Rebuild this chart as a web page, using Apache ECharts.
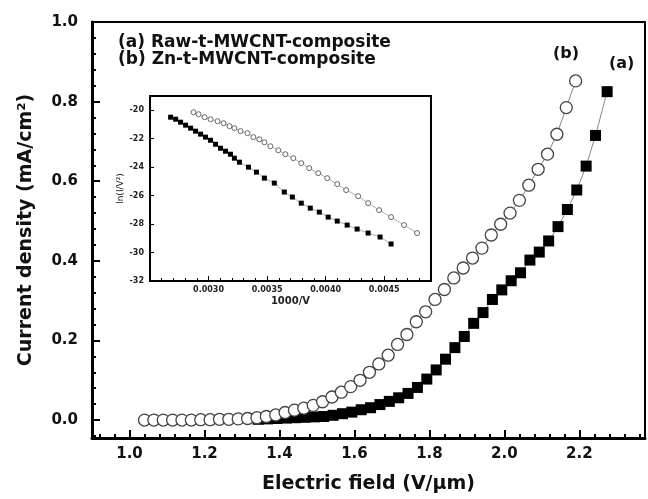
<!DOCTYPE html>
<html>
<head>
<meta charset="utf-8">
<title>Current density vs electric field</title>
<script src="https://cdn.jsdelivr.net/npm/echarts@6/dist/echarts.min.js"></script>
<style>
    html, body { margin: 0; padding: 0; background: #fff; }
    #main { width: 648px; height: 499px; }
</style>
</head>
<body>
<div id="main"></div>
<script>
//--------------------主图数据---------------------------
// (b) Zn-t-MWCNT-composite, 空心圆
var fieldB = [1.04, 1.065, 1.09, 1.115, 1.14, 1.165, 1.19, 1.215, 1.24, 1.265, 1.29, 1.315, 1.34, 1.365, 1.39,
    1.415, 1.44, 1.465, 1.49, 1.515, 1.54, 1.565, 1.59, 1.615, 1.64, 1.665, 1.69, 1.715, 1.74, 1.765, 1.79,
    1.815, 1.84, 1.865, 1.89, 1.915, 1.94, 1.965, 1.99, 2.015, 2.04, 2.065, 2.09, 2.115, 2.14, 2.165, 2.19];
var currentB = [0, 0, 0, 0, 0, 0, 0.001, 0.001, 0.002, 0.002, 0.003, 0.004, 0.006, 0.009, 0.013,
    0.019, 0.025, 0.03, 0.037, 0.046, 0.058, 0.07, 0.084, 0.1, 0.12, 0.141, 0.163, 0.19, 0.215, 0.247, 0.272,
    0.303, 0.328, 0.357, 0.382, 0.407, 0.432, 0.465, 0.492, 0.52, 0.552, 0.59, 0.63, 0.668, 0.718, 0.785, 0.852];

// (a) Raw-t-MWCNT-composite, 实心方块
var fieldA = [1.343, 1.368, 1.393, 1.418, 1.443, 1.468, 1.493, 1.518, 1.543, 1.568, 1.593, 1.618, 1.643,
    1.668, 1.693, 1.718, 1.743, 1.768, 1.793, 1.818, 1.843, 1.868, 1.893, 1.918, 1.943, 1.968, 1.993,
    2.018, 2.043, 2.068, 2.093, 2.118, 2.143, 2.168, 2.193, 2.218, 2.243, 2.274];
var currentA = [0.002, 0.003, 0.004, 0.005, 0.006, 0.007, 0.008, 0.009, 0.012, 0.016, 0.02, 0.026, 0.031,
    0.039, 0.047, 0.056, 0.067, 0.082, 0.103, 0.126, 0.153, 0.182, 0.21, 0.243, 0.27, 0.303, 0.327,
    0.35, 0.37, 0.402, 0.422, 0.45, 0.486, 0.529, 0.578, 0.638, 0.715, 0.825];
//--------------------主图数据---------------------------

//--------------------插图数据 (F-N)---------------------------
var invB = [0.002872, 0.002915, 0.002966, 0.003017, 0.003077, 0.003128, 0.003179, 0.003221, 0.003273,
    0.003332, 0.003383, 0.003434, 0.003477, 0.003528, 0.003596, 0.003656, 0.003724, 0.003792, 0.00386,
    0.003937, 0.004014, 0.004099, 0.004175, 0.004278, 0.004363, 0.004457, 0.004559, 0.00467, 0.004781];
var lnB = [-20.14, -20.28, -20.49, -20.63, -20.77, -20.91, -21.12, -21.26, -21.47,
    -21.61, -21.89, -22.04, -22.25, -22.53, -22.81, -23.09, -23.37, -23.72, -24.07,
    -24.42, -24.77, -25.19, -25.61, -26.04, -26.53, -27.02, -27.51, -28.07, -28.63];

var invA = [0.002676, 0.002719, 0.002761, 0.002804, 0.002847, 0.002889, 0.002932, 0.002974, 0.003017,
    0.00306, 0.003102, 0.003145, 0.003187, 0.003221, 0.003264, 0.003341, 0.003409, 0.003477, 0.003562,
    0.003647, 0.003716, 0.003792, 0.003869, 0.003946, 0.004022, 0.004099, 0.004184, 0.004269, 0.004363,
    0.004465, 0.004559];
var lnA = [-20.49, -20.63, -20.84, -21.05, -21.26, -21.47, -21.68, -21.89, -22.11,
    -22.39, -22.67, -22.88, -23.09, -23.37, -23.65, -24.0, -24.35, -24.77, -25.12,
    -25.75, -26.1, -26.53, -26.88, -27.16, -27.51, -27.79, -28.07, -28.35, -28.63,
    -28.91, -29.4];
//--------------------插图数据 (F-N)---------------------------

//--------------------刻度---------------------------
var xTicks = [1.0, 1.2, 1.4, 1.6, 1.8, 2.0, 2.2];
var yTicks = [0.0, 0.2, 0.4, 0.6, 0.8, 1.0];
var insetXTicks = [0.0030, 0.0035, 0.0040, 0.0045];
var insetYTicks = [-20, -22, -24, -26, -28, -30, -32];
var legendLines = ['(a) Raw-t-MWCNT-composite', '(b) Zn-t-MWCNT-composite'];
//--------------------刻度---------------------------

function pairs(xs, ys) {
    var out = [];
    for (var i = 0; i < xs.length; i++) out.push([xs[i], ys[i]]);
    return out;
}
function steps(from, to, step) {    // 次刻度位置
    var out = [];
    for (var v = from; v <= to + step / 10; v += step) out.push(+v.toFixed(6));
    return out;
}

var FONT = '"DejaVu Sans", sans-serif';
var mainMinorX = steps(0.92, 2.36, 0.04);
var mainMinorY = steps(-0.04, 1.0, 0.04);
var insetMinorX = steps(0.0026, 0.0049, 0.0001);

var myChart = echarts.init(document.getElementById('main'), null, {renderer: 'canvas'});

var baseTick = function (vals, len, w) {
    return {show: true, inside: true, customValues: vals, length: len, lineStyle: {color: '#000', width: w}};
};

var option = {
    animation: false,
    backgroundColor: '#fff',
    grid: [
        {left: 92, right: 3, top: 22, bottom: 59, show: true, borderColor: '#000', borderWidth: 2},
        {left: 150, right: 217, top: 96, bottom: 218, show: true, borderColor: '#000', borderWidth: 2,
            backgroundColor: '#fff', z: 5}
    ],
    xAxis: [
        {
            type: 'value', gridIndex: 0, min: 0.9, max: 2.375,
            name: 'Electric field (V/μm)', nameLocation: 'middle', nameGap: 37,
            nameTextStyle: {fontFamily: FONT, fontWeight: 'bold', fontSize: 19, color: '#111'},
            axisLine: {onZero: false, lineStyle: {color: '#000', width: 3}},
            axisTick: baseTick(xTicks, 8, 2),
            axisLabel: {customValues: xTicks, margin: 9, fontFamily: FONT, fontWeight: 'bold', fontSize: 15,
                color: '#111', formatter: function (v) { return v.toFixed(1); }},
            splitLine: {show: false}
        },
        {
            type: 'value', gridIndex: 0, min: 0.9, max: 2.375, position: 'bottom',
            axisLine: {show: false, onZero: false}, axisLabel: {show: false}, splitLine: {show: false},
            axisTick: baseTick(mainMinorX, 4, 2)
        },
        {
            type: 'value', gridIndex: 1, min: 0.0025, max: 0.0049,
            name: '1000/V', nameLocation: 'middle', nameGap: 15,
            nameTextStyle: {fontFamily: FONT, fontWeight: 'bold', fontSize: 10, color: '#222'},
            axisLine: {onZero: false, lineStyle: {color: '#000', width: 2}},
            axisTick: baseTick(insetXTicks, 5, 1),
            axisLabel: {customValues: insetXTicks, margin: 5, fontFamily: FONT, fontWeight: 'bold', fontSize: 8,
                color: '#222', formatter: function (v) { return v.toFixed(4); }},
            splitLine: {show: false}, z: 6
        },
        {
            type: 'value', gridIndex: 1, min: 0.0025, max: 0.0049, position: 'bottom',
            axisLine: {show: false, onZero: false}, axisLabel: {show: false}, splitLine: {show: false},
            axisTick: baseTick(insetMinorX, 3, 1), z: 6
        }
    ],
    yAxis: [
        {
            type: 'value', gridIndex: 0, min: -0.045, max: 1.0,
            name: 'Current density (mA/cm²)', nameLocation: 'middle', nameGap: 56,
            nameTextStyle: {fontFamily: FONT, fontWeight: 'bold', fontSize: 19, color: '#111'},
            axisLine: {onZero: false, lineStyle: {color: '#000', width: 3}},
            axisTick: baseTick(yTicks, 8, 2),
            axisLabel: {customValues: yTicks, margin: 14, fontFamily: FONT, fontWeight: 'bold', fontSize: 15,
                color: '#111', formatter: function (v) { return v.toFixed(1); }},
            splitLine: {show: false}
        },
        {
            type: 'value', gridIndex: 0, min: -0.045, max: 1.0, position: 'left',
            axisLine: {show: false, onZero: false}, axisLabel: {show: false}, splitLine: {show: false},
            axisTick: baseTick(mainMinorY, 4, 2)
        },
        {
            type: 'value', gridIndex: 1, min: -32, max: -19,
            name: 'ln(I/V²)', nameLocation: 'middle', nameGap: 22,
            nameTextStyle: {fontFamily: FONT, fontSize: 9, color: '#222'},
            axisLine: {onZero: false, lineStyle: {color: '#000', width: 2}},
            axisTick: baseTick(insetYTicks, 4, 1),
            axisLabel: {customValues: insetYTicks, margin: 6, fontFamily: FONT, fontWeight: 'bold', fontSize: 8,
                color: '#222'},
            splitLine: {show: false}, z: 6
        }
    ],
    graphic: [
        {type: 'text', left: 118, top: 34, z: 10,
            style: {text: legendLines[0], font: 'bold 17px ' + FONT, fill: '#111'}},
        {type: 'text', left: 118, top: 51, z: 10,
            style: {text: legendLines[1], font: 'bold 17px ' + FONT, fill: '#111'}},
        {type: 'text', left: 553, top: 46, z: 10,
            style: {text: '(b)', font: 'bold 16px ' + FONT, fill: '#111'}},
        {type: 'text', left: 609, top: 56, z: 10,
            style: {text: '(a)', font: 'bold 16px ' + FONT, fill: '#111'}}
    ],
    series: [
        {
            name: '(a) Raw-t-MWCNT-composite', type: 'line', xAxisIndex: 0, yAxisIndex: 0,
            data: pairs(fieldA, currentA),
            symbol: 'rect', symbolSize: 11,
            itemStyle: {color: '#000'},
            lineStyle: {color: '#888', width: 1}, z: 3
        },
        {
            name: '(b) Zn-t-MWCNT-composite', type: 'line', xAxisIndex: 0, yAxisIndex: 0,
            data: pairs(fieldB, currentB),
            symbol: 'circle', symbolSize: 12,
            itemStyle: {color: '#fff', borderColor: '#444', borderWidth: 1.3},
            lineStyle: {color: '#888', width: 1}, z: 4
        },
        {
            name: 'inset a', type: 'line', xAxisIndex: 2, yAxisIndex: 2,
            data: pairs(invA, lnA),
            symbol: 'rect', symbolSize: 5,
            itemStyle: {color: '#000'},
            lineStyle: {color: '#999', width: 0.8}, z: 7
        },
        {
            name: 'inset b', type: 'line', xAxisIndex: 2, yAxisIndex: 2,
            data: pairs(invB, lnB),
            symbol: 'circle', symbolSize: 5,
            itemStyle: {color: '#fff', borderColor: '#666', borderWidth: 1},
            lineStyle: {color: '#999', width: 0.8}, z: 7
        }
    ]
};

myChart.setOption(option);
</script>
</body>
</html>
